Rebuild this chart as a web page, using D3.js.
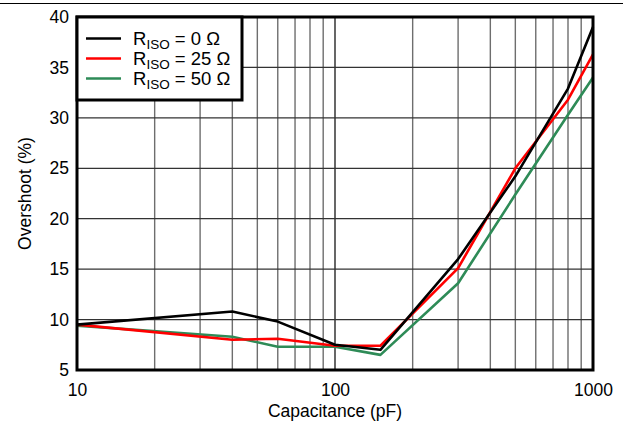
<!DOCTYPE html>
<html>
<head>
<meta charset="utf-8">
<script src="https://cdn.jsdelivr.net/npm/d3@7"></script>
<style>
  body { margin: 0; background: #fff; }
  text { font-family: "Liberation Sans", Arial, sans-serif; }
</style>
</head>
<body>
<script>
// data
var capacitance = [10, 40, 60, 100, 150, 300, 500, 800, 1000];
var riso0  = [9.5, 10.8, 9.8, 7.5, 7.0, 16.0, 24.2, 32.9, 39.0];
var riso25 = [9.5, 8.0, 8.1, 7.4, 7.4, 15.1, 25.0, 31.8, 36.3];
var riso50 = [9.4, 8.3, 7.3, 7.3, 6.5, 13.6, 22.4, 30.3, 34.0];
var seriesNames = ['0', '25', '50'];
var seriesColors = ['#000000', '#ff0000', '#2e8b57'];
var xTicks = [10, 100, 1000];
var yTicks = [5, 10, 15, 20, 25, 30, 35, 40];

var W = 627, H = 425;
var margin = {left: 77, right: 34, top: 17, bottom: 55};

var svg = d3.select('body').append('svg')
  .attr('width', W)
  .attr('height', H);

// rule along the top
svg.append('line')
  .attr('x1', 0).attr('x2', 623)
  .attr('y1', 3.5).attr('y2', 3.5)
  .attr('stroke', '#000').attr('stroke-width', 1.2);

var x = d3.scaleLog().domain([10, 1000]).range([margin.left, W - margin.right]);
var y = d3.scaleLinear().domain([5, 40]).range([H - margin.bottom, margin.top]);

// minor x grid
var minor = [];
[10, 100].forEach(function(d) {
  for (var k = 2; k <= 9; k++) minor.push(d * k);
});
svg.append('g').selectAll('line')
  .data(minor)
  .enter().append('line')
  .attr('x1', function(d) { return x(d); })
  .attr('x2', function(d) { return x(d); })
  .attr('y1', y(5)).attr('y2', y(40))
  .attr('stroke', '#6e6e6e').attr('stroke-width', 1.4);

// major x grid
svg.append('g').selectAll('line')
  .data(xTicks)
  .enter().append('line')
  .attr('x1', function(d) { return x(d); })
  .attr('x2', function(d) { return x(d); })
  .attr('y1', y(5)).attr('y2', y(40))
  .attr('stroke', '#000').attr('stroke-width', 1.2);

// y grid
svg.append('g').selectAll('line')
  .data(yTicks)
  .enter().append('line')
  .attr('x1', x(10)).attr('x2', x(1000))
  .attr('y1', function(d) { return y(d); })
  .attr('y2', function(d) { return y(d); })
  .attr('stroke', '#333').attr('stroke-width', 1.3);

// axes (labels only)
var yAxis = svg.append('g')
  .attr('transform', 'translate(' + margin.left + ',0)')
  .call(d3.axisLeft(y).tickValues(yTicks).tickSize(0).tickPadding(8));
var xAxis = svg.append('g')
  .attr('transform', 'translate(0,' + (H - margin.bottom) + ')')
  .call(d3.axisBottom(x).tickValues(xTicks).tickFormat(d3.format('d')).tickSize(0).tickPadding(14));
[xAxis, yAxis].forEach(function(a) {
  a.select('.domain').remove();
  a.selectAll('text').style('font-size', '17.5px').attr('fill', '#000')
    .style('font-family', '"Liberation Sans", Arial, sans-serif');
});

// lines
var allSeries = [riso0, riso25, riso50];
var line = d3.line()
  .x(function(d, i) { return x(capacitance[i]); })
  .y(function(d) { return y(d); });

svg.append('g').selectAll('path')
  .data(allSeries.slice().reverse())
  .enter().append('path')
  .attr('d', line)
  .attr('fill', 'none')
  .attr('stroke', function(d, i) { return seriesColors[2 - i]; })
  .attr('stroke-width', 2.6)
  .attr('stroke-linejoin', 'round');

// frame
svg.append('rect')
  .attr('x', x(10)).attr('y', y(40))
  .attr('width', x(1000) - x(10))
  .attr('height', y(5) - y(40))
  .attr('fill', 'none')
  .attr('stroke', '#000').attr('stroke-width', 3);

// legend
var leg = svg.append('g');
leg.append('rect')
  .attr('x', x(10)).attr('y', y(40))
  .attr('width', 165).attr('height', 83)
  .attr('fill', '#fff')
  .attr('stroke', '#000').attr('stroke-width', 3);

var rows = leg.selectAll('g.row')
  .data(seriesNames)
  .enter().append('g')
  .attr('class', 'row')
  .attr('transform', function(d, i) { return 'translate(0,' + (38.5 + i * 20) + ')'; });
rows.append('line')
  .attr('x1', 86).attr('x2', 121)
  .attr('y1', 0).attr('y2', 0)
  .attr('stroke', function(d, i) { return seriesColors[i]; })
  .attr('stroke-width', 2.6);
var lt = rows.append('text')
  .attr('x', 133).attr('y', 6)
  .style('font-size', '18.5px');
lt.append('tspan').text('R');
lt.append('tspan').attr('dy', 4).style('font-size', '13.5px').text('ISO');
lt.append('tspan').attr('dy', -4).text(function(d) { return ' = ' + d + ' \u03A9'; });

// axis titles
svg.append('text')
  .attr('x', x(100)).attr('y', 417)
  .attr('text-anchor', 'middle')
  .style('font-size', '17.5px')
  .text('Capacitance (pF)');
svg.append('text')
  .attr('transform', 'translate(31,' + y(22.5) + ') rotate(-90)')
  .attr('text-anchor', 'middle')
  .style('font-size', '17.5px')
  .text('Overshoot (%)');
</script>
</body>
</html>
